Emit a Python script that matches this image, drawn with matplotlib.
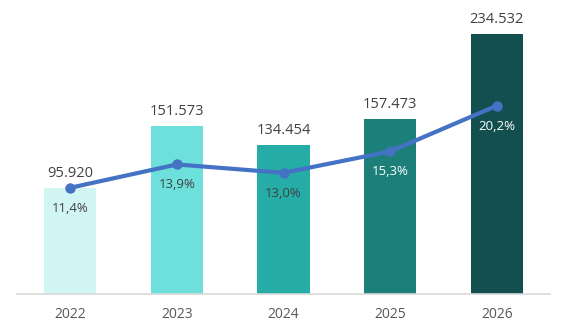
import matplotlib
matplotlib.use("Agg")
import matplotlib.pyplot as plt

years = ["2022", "2023", "2024", "2025", "2026"]
values = [95920, 151573, 134454, 157473, 234532]
growth = [11.4, 13.9, 13.0, 15.3, 20.2]
bar_colors = ["#D0F5F3", "#6DE0DC", "#26ADA8", "#1C7F7A", "#134F4F"]
pct_colors = ["#404040", "#404040", "#404040", "#FFFFFF", "#FFFFFF"]

def fmt_thousands(v):
    return f"{v:,}".replace(",", ".")

plt.rcParams["font.family"] = ["Open Sans", "DejaVu Sans"]

fig = plt.figure(figsize=(5.66, 3.33), dpi=100)
ax = fig.add_axes([17 / 566, (333 - 294) / 333, 533 / 566, 284 / 333])
x = list(range(len(years)))

ax.bar(x, values, width=0.49, color=bar_colors, zorder=2)
ax.set_xlim(-0.5, len(years) - 0.5)
ax.set_ylim(0, 256000)
for xi, v in zip(x, values):
    ax.annotate(fmt_thousands(v), (xi, v), xytext=(0, 5), textcoords="offset points",
                ha="center", va="bottom", fontsize=10.5, color="#404040")

for s in ["top", "right", "left"]:
    ax.spines[s].set_visible(False)
ax.spines["bottom"].set_color("#D9D9D9")
ax.spines["bottom"].set_linewidth(1.2)
ax.set_yticks([])
ax.set_xticks(x)
ax.set_xticklabels(years, fontsize=10, color="#595959")
ax.tick_params(axis="x", length=0, pad=9)

ax2 = ax.twinx()
ax2.set_ylim(0, 284 / 9.32)
ax2.plot(x, growth, color="#4472C4", linewidth=3, marker="o", markersize=6.5, zorder=3)
for xi, g, c in zip(x, growth, pct_colors):
    ax2.annotate(f"{g:.1f}".replace(".", ",") + "%", (xi, g), xytext=(0, -10),
                 textcoords="offset points", ha="center", va="top", fontsize=9.5, color=c)
ax2.set_yticks([])
for s in ax2.spines.values():
    s.set_visible(False)

fig.savefig("out.png", dpi=100)
